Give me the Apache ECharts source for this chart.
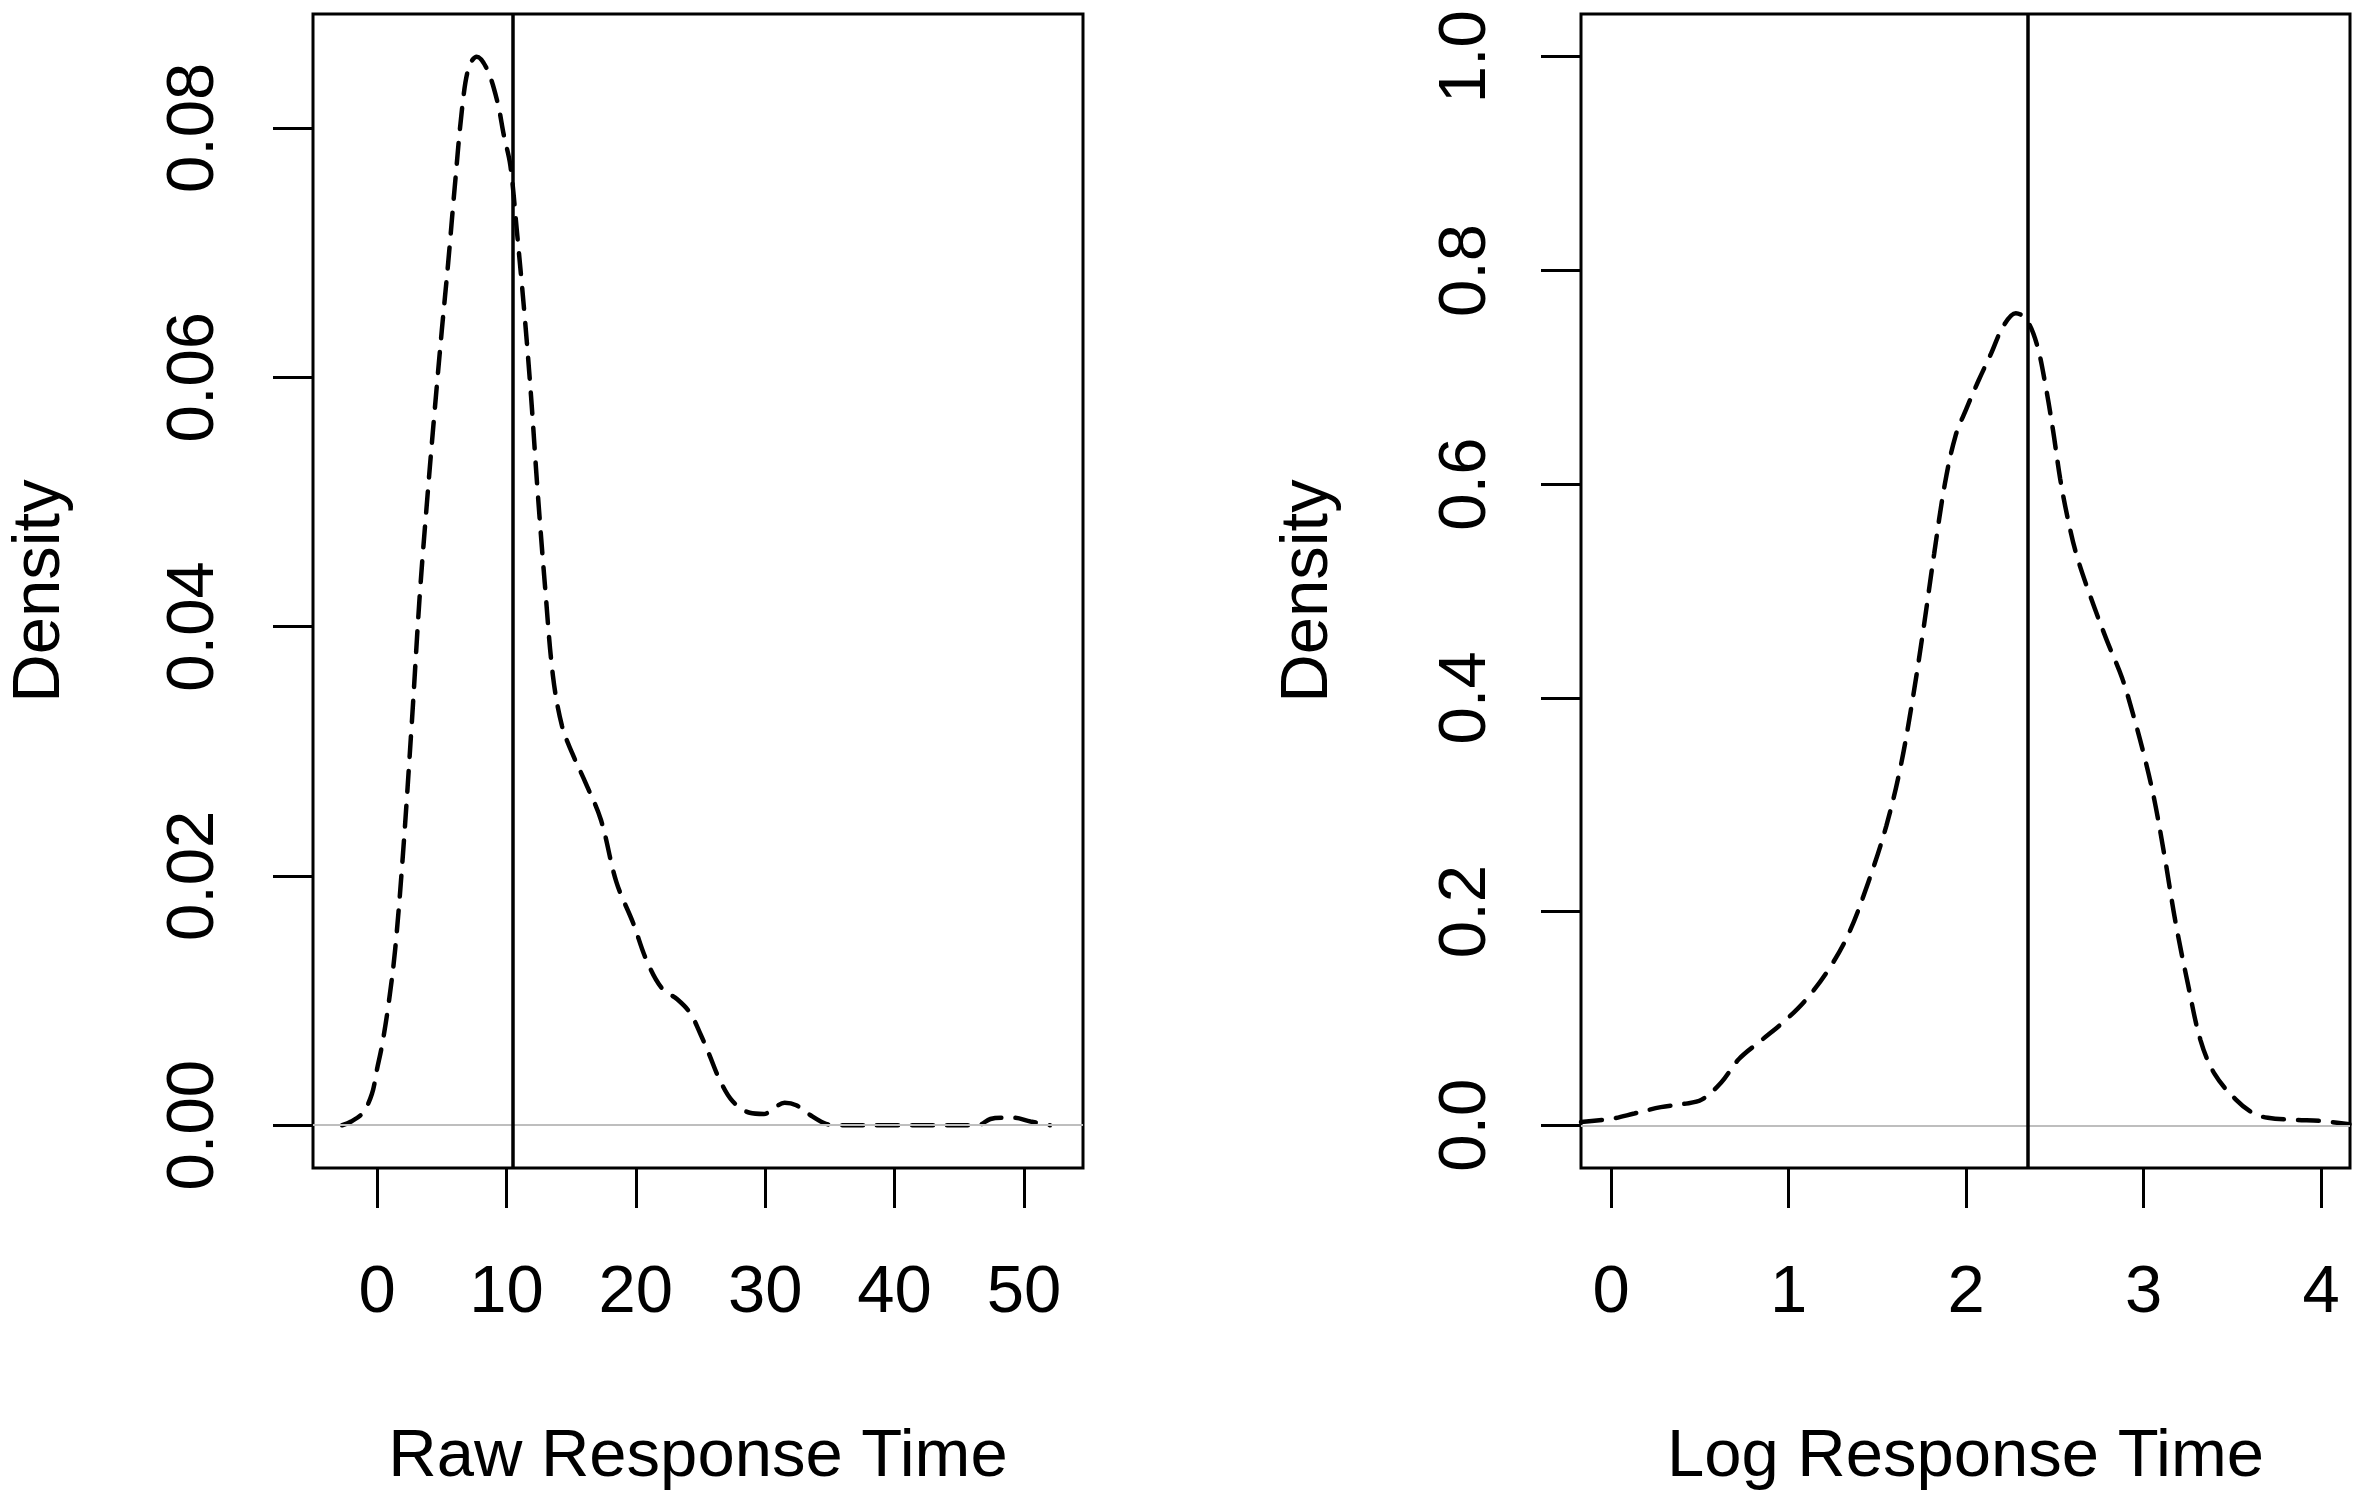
<!DOCTYPE html>
<html>
<head>
<meta charset="utf-8">
<title>Response time density</title>
<script src="https://cdn.jsdelivr.net/npm/echarts@6.0.0/dist/echarts.min.js"></script>
<style>
  html, body { margin: 0; padding: 0; background: #fff; }
  #chart { width: 2362px; height: 1496px; }
</style>
</head>
<body>
<div id="chart"></div>
<script>
// raw response time density
var rawX = [-2.7, -2.0, -1.1, -0.4, 0.0, 0.4, 0.9, 1.4, 2.0, 2.7, 3.3, 3.9, 4.46, 5.0, 5.5, 6.0, 6.6, 7.1,
    7.7, 8.5, 9.3, 9.8, 10.3, 10.8, 11.4, 11.9, 12.4, 13.0, 13.6, 14.3, 15.1, 16.1, 17.3, 18.5, 19.8,
    20.8, 22.0, 23.2, 24.2, 25.0, 25.7, 26.5, 27.5, 28.8, 29.9, 30.7, 31.5, 32.4, 33.5, 34.5, 35.3,
    40.0, 46.4, 47.4, 48.3, 49.2, 50.5, 52.0];
var rawDensity = [0, 0.0003, 0.0010, 0.0025, 0.0045, 0.0065, 0.0098, 0.0141, 0.0217, 0.0325, 0.0425,
    0.0505, 0.0574, 0.0637, 0.0692, 0.0752, 0.0818, 0.0849, 0.0857, 0.0847, 0.0821, 0.0794, 0.0770,
    0.0718, 0.0650, 0.0585, 0.0510, 0.0430, 0.0360, 0.0320, 0.0298, 0.0275, 0.0245, 0.0195, 0.0162,
    0.0133, 0.0110, 0.0101, 0.0090, 0.0073, 0.0056, 0.0036, 0.0019, 0.0010, 0.0009, 0.0014, 0.0018,
    0.0016, 0.0008, 0.0002, 0, 0, 0, 0.0005, 0.0006, 0.0006, 0.0003, 0];

// log response time density (right panel)
var logX = [-0.17, 0.0, 0.13, 0.28, 0.41, 0.51, 0.62, 0.72, 0.85, 0.98, 1.10, 1.23, 1.34, 1.45, 1.55,
    1.63, 1.70, 1.76, 1.82, 1.88, 1.94, 2.00, 2.07, 2.14, 2.21, 2.28, 2.34, 2.40, 2.45, 2.49, 2.53,
    2.57, 2.62, 2.70, 2.79, 2.88, 2.94, 3.00, 3.06, 3.12, 3.18, 3.25, 3.32, 3.40, 3.52, 3.62, 3.70,
    3.85, 4.00, 4.16];
var logDensity = [0.003, 0.006, 0.011, 0.017, 0.020, 0.024, 0.040, 0.062, 0.080, 0.098, 0.118, 0.147,
    0.180, 0.228, 0.280, 0.335, 0.400, 0.465, 0.535, 0.600, 0.645, 0.670, 0.697, 0.722, 0.748, 0.760,
    0.754, 0.730, 0.690, 0.650, 0.605, 0.570, 0.535, 0.495, 0.455, 0.418, 0.385, 0.348, 0.305, 0.250,
    0.190, 0.132, 0.080, 0.048, 0.024, 0.011, 0.007, 0.005, 0.004, 0.001];

var rawMean = 10.5;
var logMean = 2.355;

var rawTicks = [0, 10, 20, 30, 40, 50];
var rawDensityTicks = [0, 0.02, 0.04, 0.06, 0.08];
var logTicks = [0, 1, 2, 3, 4];
var logDensityTicks = [0, 0.2, 0.4, 0.6, 0.8, 1.0];

var FONT = 'Liberation Sans, Arial, sans-serif';
var FS = 67;

function pairs(xs, ys) {
    var out = [];
    for (var i = 0; i < xs.length; i++) {
        out.push([xs[i], ys[i]]);
    }
    return out;
}

function xAxisFor(idx, min, max, ticks, name) {
    return {
        type: 'value', gridIndex: idx, min: min, max: max,
        name: name, nameLocation: 'middle', nameGap: 256, nameMoveOverlap: false,
        nameTextStyle: { fontFamily: FONT, fontSize: FS, color: '#000' },
        axisLine: { show: false, onZero: false },
        splitLine: { show: false },
        axisTick: { show: true, length: 40, customValues: ticks, lineStyle: { color: '#000', width: 3 } },
        axisLabel: { customValues: ticks, margin: 92, fontFamily: FONT, fontSize: FS, color: '#000' }
    };
}

function yAxisFor(idx, min, max, ticks, digits, labelMargin) {
    return {
        type: 'value', gridIndex: idx, min: min, max: max,
        name: 'Density', nameLocation: 'middle', nameGap: 239, nameMoveOverlap: false,
        nameTextStyle: { fontFamily: FONT, fontSize: FS, color: '#000', align: 'center', verticalAlign: 'bottom' },
        axisLine: { show: false, onZero: false },
        splitLine: { show: false },
        axisTick: { show: true, length: 40, customValues: ticks, lineStyle: { color: '#000', width: 3 } },
        axisLabel: {
            customValues: ticks, rotate: 90, margin: labelMargin,
            align: 'center', verticalAlign: 'bottom',
            fontFamily: FONT, fontSize: FS, color: '#000',
            formatter: function (v) { return v.toFixed(digits); }
        }
    };
}

function densitySeries(idx, data, mean) {
    return {
        type: 'line', xAxisIndex: idx, yAxisIndex: idx,
        data: data, showSymbol: false, smooth: 0.35,
        lineStyle: { color: '#000', width: 4.5, type: [21, 14], cap: 'round' },
        markLine: {
            silent: true, symbol: 'none', label: { show: false },
            data: [
                { yAxis: 0, lineStyle: { color: '#bebebe', width: 2, type: 'solid' } },
                { xAxis: mean, lineStyle: { color: '#000', width: 3.5, type: 'solid' } }
            ]
        },
        z: 3
    };
}

var chart = echarts.init(document.getElementById('chart'), null, { renderer: 'canvas' });
var option = {
    animation: false,
    backgroundColor: '#fff',
    grid: [
        { left: 313, top: 14, width: 770, height: 1159, show: true, borderColor: '#000', borderWidth: 3, containLabel: false },
        { left: 1581, top: 14, width: 769, height: 1159, show: true, borderColor: '#000', borderWidth: 3, containLabel: false }
    ],
    xAxis: [
        xAxisFor(0, -4.95, 54.56, rawTicks, 'Raw Response Time'),
        xAxisFor(1, -0.17, 4.163, logTicks, 'Log Response Time')
    ],
    yAxis: [
        yAxisFor(0, -0.00343, 0.08913, rawDensityTicks, 2, 85),
        yAxisFor(1, -0.04, 1.04, logDensityTicks, 1, 81)
    ],
    series: [
        densitySeries(0, pairs(rawX, rawDensity), rawMean),
        densitySeries(1, pairs(logX, logDensity), logMean)
    ]
};
chart.setOption(option);
</script>
</body>
</html>
